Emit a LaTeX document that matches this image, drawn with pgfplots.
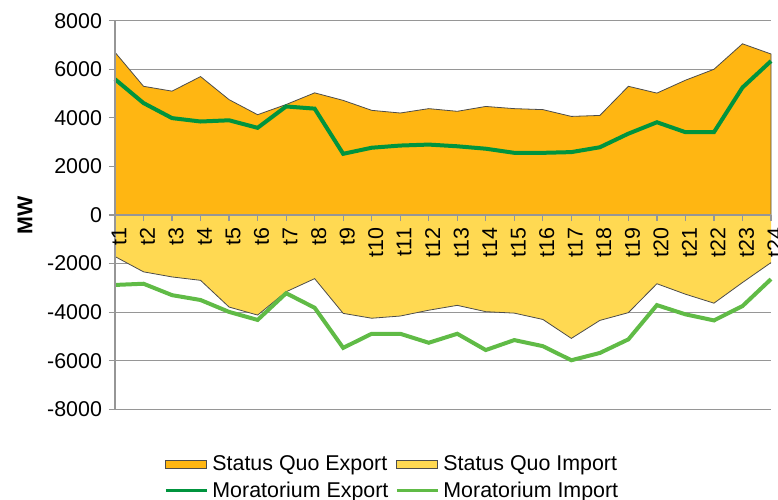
\documentclass[border=0pt]{standalone}
\usepackage{fontspec}
\setmainfont{Liberation Sans}
\usepackage{pgfplots}
\pgfplotsset{compat=1.18}

\definecolor{sqexport}{RGB}{255,182,18}
\definecolor{sqimport}{RGB}{255,217,82}
\definecolor{morexport}{RGB}{0,148,62}
\definecolor{morimport}{RGB}{96,187,70}
\definecolor{gridgray}{RGB}{150,150,150}
\newcommand\chartfont{\fontsize{10.7pt}{13.5pt}\selectfont}

\pgfplotsset{
    arealeg/.style={legend image code/.code={\draw[##1, draw=black!70, line width=0.5pt] (0pt,-2pt) rectangle (20.5pt,2pt);}},
    lineleg/.style={legend image code/.code={\draw[##1, line width=1.5pt] (0pt,0pt) -- (20.5pt,0pt);}},
    layers/ticksontop/.define layer set={axis background,axis grid,pre main,main,axis ticks,axis lines,axis tick labels,axis descriptions,axis foreground}{/pgfplots/layers/standard},
}

\begin{document}
\begin{tikzpicture}
\begin{axis}[
    set layers=ticksontop,
    scale only axis,
    width=328pt, height=194.3pt,
    xmin=1, xmax=24,
    ymin=-8000, ymax=8000,
    clip=false,
    axis y line*=left,
    axis x line*=middle,
    hide obscured x ticks=false,
    axis line style={-, draw=gridgray, line width=0.6pt},
    ytick={-8000,-6000,...,8000},
    xtick={1,...,24},
    xticklabels={t1,t2,t3,t4,t5,t6,t7,t8,t9,t10,t11,t12,t13,t14,t15,t16,t17,t18,t19,t20,t21,t22,t23,t24},
    xtick align=outside, ytick align=outside,
    major tick length=3pt,
    tick style={draw=gridgray, line width=0.6pt},
    ymajorgrids,
    grid style={draw=gridgray, line width=0.6pt},
    /pgf/number format/assume math mode=true,
    /pgf/number format/1000 sep={},
    tick label style={font=\chartfont},
    xticklabel style={rotate=90, anchor=east, yshift=-2pt},
    ylabel={\textbf{MW}},
    ylabel style={at={(axis description cs:-0.137,0.5)}, anchor=center, font=\chartfont},
    legend columns=2,
    legend style={draw=none, fill=none, font=\chartfont, inner sep=0pt,
        at={(axis description cs:0.0747,-0.108)}, anchor=north west,
        /tikz/every even column/.append style={column sep=1.5pt}},
    legend cell align=left,
]
% Status Quo Export
\addplot[fill=sqexport, draw=none, arealeg]
    coordinates {
        (1,6700) (2,5300) (3,5100) (4,5700) (5,4750) (6,4130) (7,4550) (8,5030)
        (9,4720) (10,4310) (11,4200) (12,4380) (13,4270) (14,4470) (15,4380) (16,4340)
        (17,4060) (18,4100) (19,5300) (20,5020) (21,5550) (22,6000) (23,7050) (24,6630)
    } \closedcycle;
\addlegendentry{Status Quo Export}
% Status Quo Import
\addplot[fill=sqimport, draw=none, arealeg]
    coordinates {
        (1,-1710) (2,-2340) (3,-2550) (4,-2690) (5,-3790) (6,-4120) (7,-3160) (8,-2620)
        (9,-4050) (10,-4250) (11,-4160) (12,-3920) (13,-3720) (14,-3980) (15,-4040) (16,-4300)
        (17,-5080) (18,-4340) (19,-4020) (20,-2830) (21,-3260) (22,-3630) (23,-2780) (24,-1960)
    } \closedcycle;
\addlegendentry{Status Quo Import}
% outlines of the areas
\addplot[draw=black!70, line width=0.4pt, forget plot]
    coordinates {
        (1,6700) (2,5300) (3,5100) (4,5700) (5,4750) (6,4130) (7,4550) (8,5030)
        (9,4720) (10,4310) (11,4200) (12,4380) (13,4270) (14,4470) (15,4380) (16,4340)
        (17,4060) (18,4100) (19,5300) (20,5020) (21,5550) (22,6000) (23,7050) (24,6630)
        (24,0)
    };
\addplot[draw=black!70, line width=0.4pt, forget plot]
    coordinates {
        (1,-1710) (2,-2340) (3,-2550) (4,-2690) (5,-3790) (6,-4120) (7,-3160) (8,-2620)
        (9,-4050) (10,-4250) (11,-4160) (12,-3920) (13,-3720) (14,-3980) (15,-4040) (16,-4300)
        (17,-5080) (18,-4340) (19,-4020) (20,-2830) (21,-3260) (22,-3630) (23,-2780) (24,-1960)
    };
% Moratorium Export
\addplot[draw=morexport, line width=2pt, lineleg]
    coordinates {
        (1,5590) (2,4610) (3,3990) (4,3850) (5,3900) (6,3590) (7,4470) (8,4380)
        (9,2520) (10,2770) (11,2860) (12,2900) (13,2830) (14,2730) (15,2560) (16,2560)
        (17,2590) (18,2790) (19,3350) (20,3820) (21,3410) (22,3410) (23,5250) (24,6340)
    };
\addlegendentry{Moratorium Export}
% Moratorium Import
\addplot[draw=morimport, line width=2pt, lineleg]
    coordinates {
        (1,-2880) (2,-2830) (3,-3300) (4,-3500) (5,-3990) (6,-4320) (7,-3220) (8,-3820)
        (9,-5470) (10,-4890) (11,-4890) (12,-5260) (13,-4890) (14,-5560) (15,-5150) (16,-5400)
        (17,-5980) (18,-5680) (19,-5120) (20,-3710) (21,-4090) (22,-4340) (23,-3750) (24,-2640)
    };
\addlegendentry{Moratorium Import}
\end{axis}
\pgfresetboundingbox
\path[use as bounding box] (-57.5pt,-44.85pt) rectangle (331.5pt,204.65pt);
\end{tikzpicture}
\end{document}
